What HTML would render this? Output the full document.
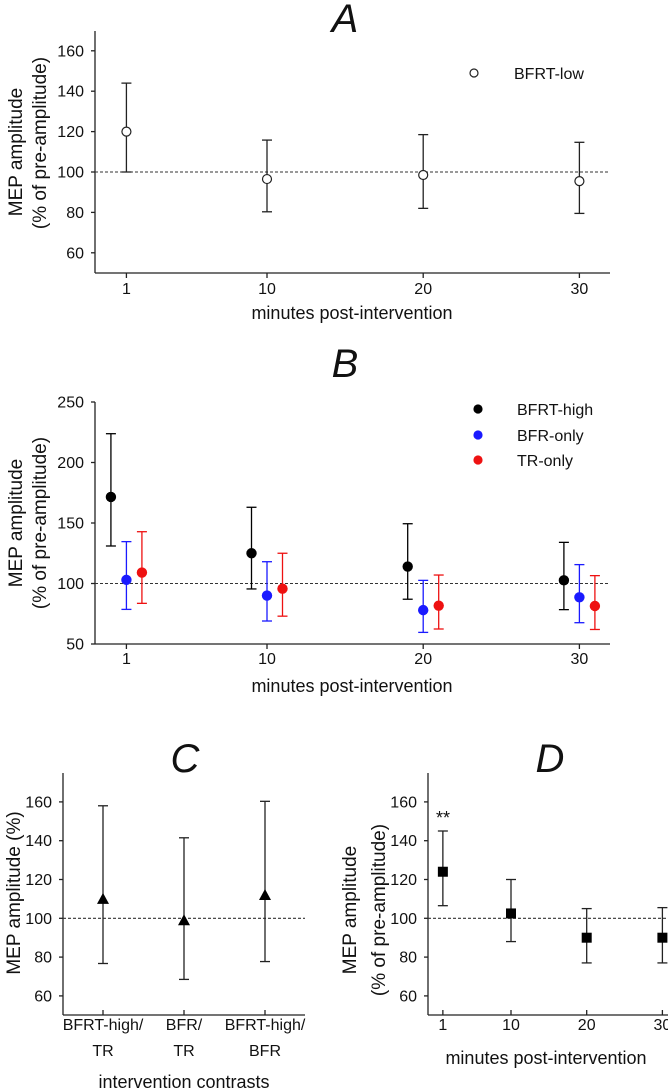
<!DOCTYPE html>
<html><head><meta charset="utf-8"><style>
html,body{margin:0;padding:0;background:#fff}
svg{display:block;font-family:"Liberation Sans",sans-serif}
</style></head><body>
<svg id="fig" width="668" height="1089" viewBox="0 0 668 1089" xmlns="http://www.w3.org/2000/svg"></svg>
<script>
// Panel A data
const minutes = [1, 10, 20, 30];
const aMean = [120, 96.5, 98.5, 95.5];
const aLow = [100, 80.3, 82, 79.5];
const aHigh = [144, 115.8, 118.5, 114.7];
const aTicks = [60, 80, 100, 120, 140, 160];
// Panel B data
const bSeries = ["BFRT-high", "BFR-only", "TR-only"];
const bHighMean = [171.5, 125, 114, 102.6];
const bHighLow = [131, 95.5, 87, 78.4];
const bHighHigh = [223.8, 163, 149.4, 134];
const bBfrMean = [103, 90, 78, 88.6];
const bBfrLow = [78.6, 69, 59.6, 67.6];
const bBfrHigh = [134.6, 118, 102.6, 115.6];
const bTrMean = [109, 95.7, 81.7, 81.4];
const bTrLow = [83.6, 73, 62.4, 62];
const bTrHigh = [142.8, 125, 107, 106.5];
const bTicks = [50, 100, 150, 200, 250];
// Panel C data
const cCats = [["BFRT-high/", "TR"], ["BFR/", "TR"], ["BFRT-high/", "BFR"]];
const cMean = [110, 99, 112];
const cLow = [76.7, 68.5, 77.7];
const cHigh = [158, 141.5, 160.3];
const cTicks = [60, 80, 100, 120, 140, 160];
// Panel D data
const dMean = [124, 102.5, 90, 90];
const dLow = [106.5, 88, 77, 77];
const dHigh = [145, 120, 105, 105.5];
const dTicks = [60, 80, 100, 120, 140, 160];

const svg = document.getElementById('fig');
const NS = 'http://www.w3.org/2000/svg';
function el(tag, attrs, text) {
  const e = document.createElementNS(NS, tag);
  for (const k in attrs) e.setAttribute(k, attrs[k]);
  if (text !== undefined) e.textContent = text;
  svg.appendChild(e);
  return e;
}
function line(x1, y1, x2, y2, stroke, extra) {
  const a = Object.assign({x1, y1, x2, y2, stroke: stroke || '#222', 'stroke-width': 1.3}, extra || {});
  return el('line', a);
}
function errbar(x, yl, yh, color, name) {
  const g1 = line(x, yl, x, yh, color);
  
  
  const c1 = line(x - 5, yh, x + 5, yh, color);
  
  
  const c2 = line(x - 5, yl, x + 5, yl, color);
  
  
}
function txt(x, y, s, size, anchor, extra, name) {
  const t = el('text', Object.assign({x, y, 'font-size': size, 'text-anchor': anchor || 'middle', fill: '#111'}, extra || {}), s);
  
  
  return t;
}
function axes(x0, x1, yTop, yBot, name) {
  const a = line(x0, yTop, x0, yBot, '#222');
  
  
  const b = line(x0, yBot, x1, yBot, '#222');
  
  
}
function yticks(ticks, yf, x0, name) {
  ticks.forEach(v => {
    const t = line(x0, yf(v), x0 - 4, yf(v), '#222');
    
    
    txt(x0 - 11, yf(v) + 5.5, String(v), 16, 'end', {}, name + '-y-tick-label');
  });
}
function refline(x0, x1, y, name) {
  const r = line(x0, y, x1, y, '#333', {'stroke-dasharray': '3,2', 'stroke-width': 1.1});
  
  
}

// ===== Panel A =====
const axA = m => 267 + (m - 10) * 15.62;
const ayA = v => 172 - (v - 100) * 2.02;
txt(345, 32, 'A', 40, 'middle', {'font-style': 'italic'}, 'panel-a-title');
axes(95, 610, 31, 273, 'panel-a');
yticks(aTicks, ayA, 95, 'panel-a');
minutes.forEach(m => {
  const t = line(axA(m), 273, axA(m), 278);
  
  
  txt(axA(m), 294, String(m), 16, 'middle', {}, 'panel-a-x-tick-label');
});
refline(95, 610, ayA(100), 'panel-a');
minutes.forEach((m, i) => {
  errbar(axA(m), ayA(aLow[i]), ayA(aHigh[i]), '#222', 'panel-a-point');
  const c = el('circle', {cx: axA(m), cy: ayA(aMean[i]), r: 4.5, fill: '#fff', stroke: '#222', 'stroke-width': 1.2});
  
  
});
const la = el('circle', {cx: 474, cy: 73, r: 4, fill: '#fff', stroke: '#222', 'stroke-width': 1.2});


txt(514, 79, 'BFRT-low', 16, 'start', {}, 'legend-bfrt-low');
txt(352, 319, 'minutes post-intervention', 18, 'middle', {}, 'panel-a-x-axis-title');
txt(0, 0, 'MEP amplitude', 19, 'middle', {transform: 'translate(22,152) rotate(-90)'}, 'panel-a-y-axis-title');
txt(0, 0, '(% of pre-amplitude)', 19, 'middle', {transform: 'translate(46,143) rotate(-90)'}, 'panel-a-y-axis-subtitle');

// ===== Panel B =====
const axB = m => 267 + (m - 10) * 15.62;
const ayB = v => 644 - (v - 50) * 1.21;
txt(345, 377, 'B', 40, 'middle', {'font-style': 'italic'}, 'panel-b-title');
axes(95, 610, 402, 644, 'panel-b');
yticks(bTicks, ayB, 95, 'panel-b');
minutes.forEach(m => {
  const t = line(axB(m), 644, axB(m), 649);
  
  
  txt(axB(m), 664, String(m), 16, 'middle', {}, 'panel-b-x-tick-label');
});
refline(95, 610, ayB(100), 'panel-b');
const bGroups = [
  [bHighMean, bHighLow, bHighHigh, '#000', -15.5, 'bfrt-high'],
  [bBfrMean, bBfrLow, bBfrHigh, '#1a1aff', 0, 'bfr-only'],
  [bTrMean, bTrLow, bTrHigh, '#ee1111', 15.5, 'tr-only']
];
bGroups.forEach(([mean, lo, hi, col, off, nm]) => {
  minutes.forEach((m, i) => {
    const x = axB(m) + off;
    errbar(x, ayB(lo[i]), ayB(hi[i]), col, 'panel-b-' + nm);
    const c = el('circle', {cx: x, cy: ayB(mean[i]), r: 5.2, fill: col});
    
    
  });
});
[['#000', 409], ['#1a1aff', 435], ['#ee1111', 460]].forEach(([col, y], i) => {
  const c = el('circle', {cx: 478, cy: y, r: 4.6, fill: col});
  
  
  txt(517, y + 6, bSeries[i], 16, 'start', {}, 'legend-entry');
});
txt(352, 692, 'minutes post-intervention', 18, 'middle', {}, 'panel-b-x-axis-title');
txt(0, 0, 'MEP amplitude', 19, 'middle', {transform: 'translate(22,523) rotate(-90)'}, 'panel-b-y-axis-title');
txt(0, 0, '(% of pre-amplitude)', 19, 'middle', {transform: 'translate(46,523) rotate(-90)'}, 'panel-b-y-axis-subtitle');

// ===== Panel C =====
const cX = [103, 184, 265];
const ayC = v => 918.3 - (v - 100) * 1.94;
txt(185, 772, 'C', 40, 'middle', {'font-style': 'italic'}, 'panel-c-title');
axes(63, 305, 773, 1015, 'panel-c');
yticks(cTicks, ayC, 63, 'panel-c');
cCats.forEach((lab, i) => {
  const t = line(cX[i], 1015, cX[i], 1010);
  
  
  txt(cX[i], 1030, lab[0], 16, 'middle', {}, 'panel-c-x-tick-label');
  txt(cX[i], 1056, lab[1], 16, 'middle', {}, 'panel-c-x-tick-label');
});
refline(63, 305, ayC(100), 'panel-c');
cMean.forEach((v, i) => {
  errbar(cX[i], ayC(cLow[i]), ayC(cHigh[i]), '#222', 'panel-c-point');
  const y = ayC(v);
  const p = el('polygon', {points: `${cX[i]},${y - 6} ${cX[i] - 6},${y + 5} ${cX[i] + 6},${y + 5}`, fill: '#000'});
  
  
});
txt(184, 1088, 'intervention contrasts', 18, 'middle', {}, 'panel-c-x-axis-title');
txt(0, 0, 'MEP amplitude (%)', 19, 'middle', {transform: 'translate(20,893) rotate(-90)'}, 'panel-c-y-axis-title');

// ===== Panel D =====
const axD = m => 511 + (m - 10) * 7.57;
const ayD = v => 918.3 - (v - 100) * 1.94;
txt(550, 772, 'D', 40, 'middle', {'font-style': 'italic'}, 'panel-d-title');
axes(428, 668, 773, 1015, 'panel-d');
yticks(dTicks, ayD, 428, 'panel-d');
minutes.forEach(m => {
  const t = line(axD(m), 1015, axD(m), 1010);
  
  
  txt(axD(m), 1030, String(m), 16, 'middle', {}, 'panel-d-x-tick-label');
});
refline(428, 668, ayD(100), 'panel-d');
dMean.forEach((v, i) => {
  const x = axD(minutes[i]);
  errbar(x, ayD(dLow[i]), ayD(dHigh[i]), '#222', 'panel-d-point');
  const r = el('rect', {x: x - 5, y: ayD(v) - 5, width: 10, height: 10, fill: '#000'});
  
  
});
txt(443, 824, '**', 18, 'middle', {}, 'significance-marker');
txt(546, 1064, 'minutes post-intervention', 18, 'middle', {}, 'panel-d-x-axis-title');
txt(0, 0, 'MEP amplitude', 19, 'middle', {transform: 'translate(356,910) rotate(-90)'}, 'panel-d-y-axis-title');
txt(0, 0, '(% of pre-amplitude)', 19, 'middle', {transform: 'translate(385,910) rotate(-90)'}, 'panel-d-y-axis-subtitle');
</script>
</body></html>
